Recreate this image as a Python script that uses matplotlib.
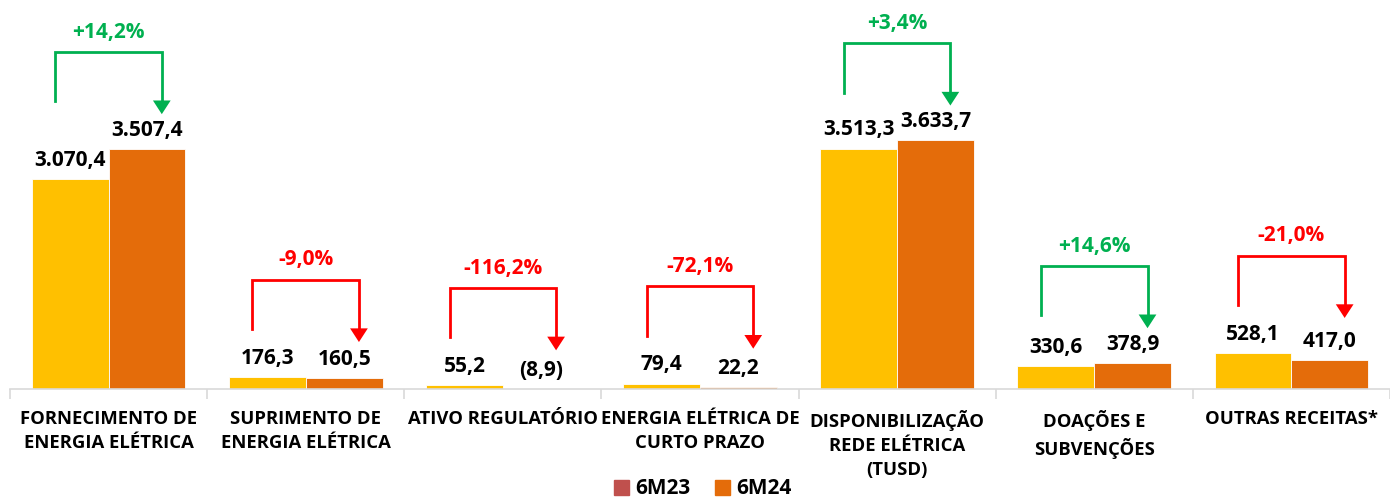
import matplotlib.pyplot as plt
import numpy as np

# dados (R$ milhões)
categorias = ["FORNECIMENTO DE\nENERGIA ELÉTRICA", "SUPRIMENTO DE\nENERGIA ELÉTRICA",
              "ATIVO REGULATÓRIO", "ENERGIA ELÉTRICA DE\nCURTO PRAZO",
              "DISPONIBILIZAÇÃO\nREDE ELÉTRICA\n(TUSD)", "DOAÇÕES E\nSUBVENÇÕES",
              "OUTRAS RECEITAS*"]
v_6m23 = [3070.4, 176.3, 55.2, 79.4, 3513.3, 330.6, 528.1]
v_6m24 = [3507.4, 160.5, -8.9, 22.2, 3633.7, 378.9, 417.0]
variacao = [14.2, -9.0, -116.2, -72.1, 3.4, 14.6, -21.0]
series = ["6M23", "6M24"]

plt.rcParams["font.family"] = ["Open Sans", "DejaVu Sans"]
plt.rcParams["font.weight"] = "bold"

amarelo = "#FFC000"
laranja = "#E46C0A"
verde = "#00B050"
vermelho = "#FF0000"


def fmt(v):
    s = f"{abs(v):,.1f}".replace(",", "X").replace(".", ",").replace("X", ".")
    return f"({s})" if v < 0 else s


fig = plt.figure(figsize=(13.9, 4.99), dpi=100)
ax = fig.add_axes([10 / 1390, 110 / 499, 1380 / 1390, 379 / 499])

x = np.arange(len(categorias))
w = 0.39
ax.bar(x - w / 2, v_6m23, w, color=amarelo, edgecolor="white", linewidth=0.6)
ax.bar(x + w / 2, v_6m24, w, color=laranja, edgecolor="white", linewidth=0.6)

ax.set_xlim(-0.5, len(categorias) - 0.5)
ax.set_ylim(0, 5540)

for i in range(len(categorias)):
    for dx, v in ((-w / 2, v_6m23[i]), (w / 2, v_6m24[i])):
        ax.text(i + dx, max(v, 0) + 120, fmt(v), ha="center", va="bottom",
                fontsize=15, fontweight="bold", color="black")

    # colchete com seta
    topo = max(v_6m23[i], v_6m24[i]) + 1420
    cor = verde if variacao[i] >= 0 else vermelho
    xl, xr = i - 0.27, i + 0.27
    ponta = topo - 910
    cab = 200
    ax.plot([xl, xl, xr, xr], [topo - 720, topo, topo, ponta + cab],
            color=cor, lw=2, clip_on=False, solid_joinstyle="miter")
    ax.fill([xr - 0.045, xr + 0.045, xr], [ponta + cab, ponta + cab, ponta],
            color=cor, clip_on=False, lw=0)
    txt = f"{variacao[i]:+.1f}%".replace(".", ",")
    ax.text(i, topo + 290, txt, ha="center", va="center", fontsize=15,
            fontweight="bold", color=cor)

for s in ["top", "right", "left"]:
    ax.spines[s].set_visible(False)
ax.spines["bottom"].set_color("#D9D9D9")
ax.spines["bottom"].set_linewidth(1.2)
ax.set_yticks([])
ax.set_xticks(x)
ax.set_xticklabels(categorias, fontsize=13.3, fontweight="bold", linespacing=1.45)
ax.tick_params(axis="x", which="major", length=0, pad=15)
ax.set_xticks(np.arange(-0.5, len(categorias)), minor=True)
ax.tick_params(axis="x", which="minor", length=7, color="#D9D9D9", width=1.2)

# legenda
h1 = plt.Rectangle((0, 0), 1, 1, color="#C0504D")
h2 = plt.Rectangle((0, 0), 1, 1, color=laranja)
fig.legend([h1, h2], series, loc="center", bbox_to_anchor=(703 / 1390, 1 - 489 / 499),
           ncol=2, frameon=False, prop={"size": 15, "weight": "bold"},
           handlelength=0.7, handleheight=0.7, handletextpad=0.3, columnspacing=1.2)

fig.savefig("out.png", dpi=100)
